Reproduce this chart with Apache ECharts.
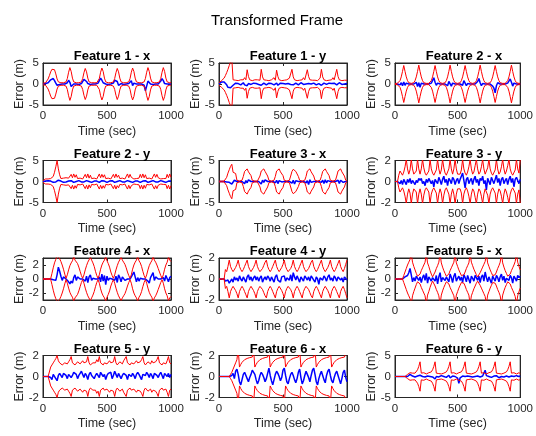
<!DOCTYPE html>
<html><head><meta charset="utf-8">
<script src="https://cdn.jsdelivr.net/npm/echarts@6/dist/echarts.min.js"></script>
<style>html,body{margin:0;padding:0;background:#fff}#chart{width:536px;height:436px}</style>
</head><body><div id="chart"></div>
<script>
// Sample times (sec)
const timeSec = [
  0,10,20,30,40,50,60,70,80,90,
  100,110,120,130,140,150,160,170,180,190,
  200,210,220,230,240,250,260,270,280,290,
  300,310,320,330,340,350,360,370,380,390,
  400,410,420,430,440,450,460,470,480,490,
  500,510,520,530,540,550,560,570,580,590,
  600,610,620,630,640,650,660,670,680,690,
  700,710,720,730,740,750,760,770,780,790,
  800,810,820,830,840,850,860,870,880,890,
  900,910,920,930,940,950,960,970,980,990,
  1000];

// Feature 1 - x : estimation error and 3-sigma bound (m)
const f1xErr = [
  0,0,0.1,0.1,0.3,0.6,1.0,1.4,1.3,0.8,
  0.2,-0.3,-0.2,-0.1,-0.1,0,-0.1,0,0,0.3,
  0.9,0.4,-0.6,-0.2,0,-0.1,0,0,-0.1,0,
  0.1,0.5,1.1,1.3,0.6,0.1,0,-0.1,0,0,
  -0.1,0,0,0.2,0.8,1.4,0.9,0.3,-0.1,0,
  0,-0.1,0,0,0,0.2,0.9,1.3,0.6,-0.3,
  0,0.1,0,-0.1,0,0,0,0.1,0.4,0.8,
  -0.4,0.2,0,0,-0.1,0,0,0,0,-0.3,
  -1.6,-0.5,0.7,0.3,0,0,-0.1,0,0,0,
  0,0.2,0.7,1.3,0.8,0.1,0,0,-0.1,0,
  0];
const f1xBound = [
  0.2,0.3,0.3,0.6,1.2,2.0,2.9,3.5,3.8,3.4,
  2.4,1.2,0.5,0.3,0.3,0.3,0.3,0.3,0.5,1.3,
  2.8,3.9,3.0,1.4,0.5,0.3,0.3,0.3,0.3,0.3,
  0.5,1.3,2.7,3.7,2.9,1.4,0.5,0.3,0.3,0.3,
  0.3,0.3,0.3,0.5,1.3,2.8,3.8,3.0,1.4,0.5,
  0.3,0.3,0.3,0.3,0.3,0.5,1.3,2.7,3.7,2.9,
  1.4,0.5,0.3,0.3,0.3,0.3,0.3,0.5,1.3,2.8,
  3.8,3.0,1.4,0.5,0.3,0.3,0.3,0.3,0.3,0.5,
  1.3,2.8,3.9,3.0,1.4,0.5,0.3,0.3,0.3,0.3,
  0.3,0.5,1.3,2.8,3.9,3.0,1.4,0.5,0.3,0.3,
  0.3];

// Feature 1 - y
const f1yErr = [
  0,0.2,0.5,0.6,0.5,0.3,-0.2,-0.8,-1.0,-0.9,
  -1.0,-0.3,0.1,0.2,-0.1,0.1,0.3,-0.2,0.1,0.3,
  -0.2,0.2,-0.4,0.1,0.2,-0.1,0,0.2,-0.2,0.1,
  0.3,-0.1,0.2,-0.3,0.1,0.2,0,-0.2,0.1,0.2,
  -0.1,0.1,0.3,-0.2,0,0.2,-0.3,0.1,0.2,-0.1,
  0.1,0.3,0,-0.2,0.1,0.2,-0.1,0.3,-0.2,0,
  0.2,0.1,-0.2,0,0.3,0.1,-0.1,0.2,0,-0.3,
  0.1,0.2,0,-0.1,0.2,0.3,-0.2,0,0.1,0.2,
  -0.3,0.1,0.2,0,-0.1,0.3,0.2,-0.2,0.1,0,
  0.2,0.4,-0.2,0.1,0.3,0.1,-0.1,0.2,0,-0.2,
  0.1];
const f1yBound = [
  0.3,0.6,0.8,1.0,1.4,2.0,2.7,3.5,4.4,5.2,
  6.0,1.0,0.8,0.9,1.0,0.8,0.9,1.0,0.9,1.0,
  1.5,1.0,3.4,1.8,1.0,0.9,0.8,0.9,1.0,0.9,
  1.0,1.4,0.9,3.5,1.7,1.0,0.8,0.9,1.0,0.8,
  0.9,1.0,1.0,1.5,0.9,3.3,1.8,1.0,0.9,0.8,
  1.0,0.9,0.8,1.0,1.0,1.4,1.0,3.5,1.7,1.0,
  0.9,0.8,1.0,0.9,0.9,1.0,1.5,1.0,1.1,3.4,
  1.8,1.0,0.8,0.9,1.0,0.9,1.0,0.8,1.0,1.4,
  3.5,1.7,1.0,0.9,0.8,1.0,0.9,1.0,1.0,1.5,
  1.0,1.0,3.5,1.8,1.0,0.9,0.8,1.0,0.9,1.0,
  0.9];

// Feature 2 - x
const f2xErr = [
  0,0,0,0,-0.2,0.3,-0.4,0.5,-0.3,0.2,
  -0.1,0,0,0,0,0,-0.3,0.4,-0.6,0.3,
  -0.8,0.2,-0.1,0,0,0,0,0,0,0.2,
  0.6,1.5,0.4,-0.3,0.2,0,0,0,0,0,
  0,0.2,-0.4,0.6,0.9,-0.5,0.2,0,0,0,
  0,0,0,0.3,-0.3,0.8,0.4,-0.4,0.1,0,
  0,0,0,0,0,0.2,0.6,1.3,0.3,-0.4,
  0.1,0,0,0,0,0,0,0.2,-0.5,-1.0,
  -2.1,-0.4,0.3,0,0,0,0,0,0,0,
  0.2,0.5,1.2,0.4,-0.5,0.2,0,0,0,0,
  0];
const f2xBound = [
  0.1,0.15,0.2,0.3,0.8,1.7,3.0,4.4,3.0,1.7,
  0.8,0.3,0.15,0.15,0.15,0.3,0.8,1.7,3.0,4.5,
  3.0,1.7,0.8,0.3,0.15,0.15,0.15,0.15,0.3,0.8,
  1.7,3.0,4.4,3.0,1.7,0.8,0.3,0.15,0.15,0.15,
  0.3,0.8,1.7,3.0,4.5,3.0,1.7,0.8,0.3,0.15,
  0.15,0.15,0.3,0.8,1.7,3.0,4.4,3.0,1.7,0.8,
  0.3,0.15,0.15,0.15,0.3,0.8,1.7,3.0,4.5,3.0,
  1.7,0.8,0.3,0.15,0.15,0.15,0.3,0.8,1.7,3.0,
  4.4,3.0,1.7,0.8,0.3,0.15,0.15,0.15,0.15,0.3,
  0.8,1.7,3.0,4.5,3.0,1.7,0.8,0.3,0.15,0.15,
  0.15];

// Feature 2 - y
const f2yErr = [
  0,0,0.1,0.1,0.2,0.2,0.1,-0.1,-0.2,-0.2,
  -0.1,0.2,0.3,0.3,0.1,-0.1,-0.2,-0.2,-0.1,0,
  0.1,0.2,0.2,-0.1,-0.2,-0.2,0,0.1,0.2,0.1,
  -0.1,-0.2,-0.1,0.1,0.2,0.2,0,-0.2,-0.2,0,
  0.1,0.2,0.1,-0.1,-0.2,0,0.2,0.2,0.1,-0.1,
  -0.2,-0.1,0.1,0.2,0.2,0,-0.2,-0.2,0,0.1,
  0.2,0.1,-0.1,-0.2,-0.1,0.1,0.2,0.2,0,-0.2,
  -0.2,0,0.1,0.2,0.1,-0.1,-0.2,-0.1,0.1,0.2,
  0.2,0,-0.2,-0.2,0,0.1,0.2,0.1,-0.1,-0.2,
  -0.1,0.1,0.2,0.2,0,-0.2,-0.2,0,0.1,0.2,
  0.1];
const f2yBound = [
  0.2,0.5,0.6,0.7,0.6,0.8,0.7,0.9,1.2,2.2,
  3.5,5.0,3.0,1.6,0.7,0.6,0.8,0.7,0.9,0.6,
  0.8,0.7,1.7,0.9,1.8,1.0,1.6,0.7,0.6,0.8,
  0.7,0.6,0.8,1.7,0.9,1.8,0.8,1.5,0.7,0.6,
  0.8,0.7,0.6,0.8,1.8,0.9,1.7,1.0,1.6,0.7,
  0.6,0.8,0.7,0.6,0.8,1.7,0.9,1.8,1.0,1.5,
  0.7,0.6,0.8,0.7,0.6,0.9,1.8,0.9,1.7,1.0,
  0.7,0.6,0.8,0.7,0.6,0.8,1.7,0.9,1.8,0.9,
  1.6,0.7,0.6,0.8,0.7,0.6,0.9,1.8,1.0,1.7,
  0.9,0.7,0.6,0.8,0.7,0.6,0.7,1.7,0.9,1.8,
  1.0];

// Feature 3 - x
const f3xErr = [
  0,0,0,0,0,0,-0.1,0.2,-0.2,-0.4,
  -0.6,-0.2,0.3,0.1,0,0,0,0,0,-0.2,
  -0.5,0.2,-0.3,0.4,0.1,0,0,0,0,0,
  0,0,-0.2,-0.6,0.3,-0.2,0.4,0.1,0,0,
  0,0,0,0,-0.3,0.3,-0.5,0.2,0.4,-0.1,
  0,0,0,0,0,0,0.2,-0.4,0.3,-0.6,
  0.2,0.1,0,0,0,0,0,0,-0.3,0.2,
  -0.7,0.4,-0.2,0.1,0,0,0,0,0,0,
  -0.2,0.3,-0.5,0.4,-0.3,0.2,0,0,0,0,
  0,0,-0.3,0.3,-0.5,0.3,0.1,-0.2,0,0,
  0];
const f3xBound = [
  0.1,0.1,0.1,0.1,0.1,0.3,1.0,2.0,2.8,3.6,
  4.1,2.2,2.4,1.9,0.3,0.1,0.1,0.1,0.3,1.2,
  2.4,2.8,3.0,2.3,2.7,1.4,0.3,0.1,0.1,0.1,
  0.1,0.3,1.3,2.5,2.8,3.0,2.4,2.6,1.3,0.3,
  0.1,0.1,0.1,0.3,1.2,2.5,2.8,3.0,2.3,2.7,
  1.4,0.3,0.1,0.1,0.1,0.3,1.3,2.4,2.9,3.0,
  2.4,2.6,1.2,0.3,0.1,0.1,0.1,0.3,1.2,2.5,
  2.8,3.0,2.3,2.7,1.3,0.3,0.1,0.1,0.1,0.3,
  1.2,2.4,2.8,3.0,2.4,2.6,1.4,0.3,0.1,0.1,
  0.1,0.3,1.3,2.5,2.9,3.0,2.3,2.7,1.3,0.3,
  0.1];

// Feature 3 - y
const f3yErr = [
  0,0,0,0.1,-0.2,0.1,-0.3,0.2,0.1,-0.3,
  0.2,-0.1,0.3,-0.2,0.1,0.2,-0.3,0.1,-0.1,0.3,
  0.1,0.3,-0.2,0,-0.4,0.2,-0.1,0.3,0.4,-0.2,
  0.1,-0.5,0.2,0.3,-0.2,0.4,0.1,-0.3,0.2,0.5,
  -0.1,0.2,-0.4,0.3,0.1,-0.2,0.4,0.2,-0.3,0.1,
  0.3,-0.2,0.2,0.5,0.8,0.1,-0.6,0.2,0.4,-0.2,
  0.1,0.3,-0.3,0.2,0.5,-0.1,0.2,-0.4,0.3,0.1,
  0.5,-0.2,0.1,-0.8,0.3,0.2,-0.3,0.4,0.1,-0.2,
  0.2,0.6,-0.1,0.3,-0.4,0.2,0.4,-0.2,0.1,0.3,
  -0.3,0.2,0.5,-0.1,0.3,-0.5,0.2,0.4,0.1,-0.2,
  0.2];
const f3yBound = [
  0,0,0,0.6,1.0,0.8,0.6,0.9,1.4,2.1,
  1.2,0.7,1.1,2.1,1.2,0.7,0.6,1.0,2.1,1.2,
  0.7,1.2,2.1,1.3,0.8,0.6,0.6,1.0,2.1,1.2,
  0.8,0.6,0.7,1.1,2.1,1.2,0.7,1.1,2.1,1.3,
  0.8,0.6,0.7,1.2,2.1,1.2,0.7,1.2,2.1,1.2,
  0.7,0.6,0.7,1.1,2.1,1.2,0.8,0.6,0.9,1.4,
  2.1,1.2,0.7,0.9,1.5,2.1,1.2,0.7,0.9,1.4,
  2.1,1.2,0.7,0.8,1.3,2.1,1.2,0.8,0.6,0.7,
  1.1,2.1,1.2,0.7,0.9,1.4,2.1,1.2,0.7,1.0,
  1.5,2.1,1.2,0.8,0.6,0.7,1.1,2.1,1.2,0.8,
  2.1];

// Feature 4 - x
const f4xErr = [
  0,0,0,0,0,0,0,0,-0.1,-0.3,
  -0.2,0.6,1.7,1.1,0.4,-0.2,0.3,0.1,0,-0.1,
  -0.4,-0.7,-0.3,-0.6,0.2,0.6,-0.2,0.3,0.1,0,
  0,0,0.2,-0.3,0.4,-0.5,0.3,0.6,-0.2,0.1,
  0.2,0,0,0,0.3,-0.4,0.7,-0.3,0.5,-0.8,
  0.4,-0.2,0.1,0,0,0,-0.2,0.4,-0.5,0.6,
  0.2,-0.4,0.3,0.1,-0.2,0,0,0,0,0.3,
  0.5,1.0,0.3,-0.4,0.2,-0.3,0.1,0,0,0,
  0,0,-0.3,-0.6,0.2,0.4,0.9,-0.2,0.3,0.1,
  0,0,0,0,0.2,-0.3,0.5,0.3,-0.4,0.2,
  0.4];
const f4xBound = [
  0.05,0.05,0.05,0.05,0.05,0.05,0.05,0.8,1.6,2.3,
  2.8,3.3,3.4,2.9,2.5,2.0,1.4,0.7,0.1,0.6,
  1.3,1.9,2.3,2.6,3.2,2.7,2.5,2.2,1.7,1.1,
  0.5,0.1,0.6,1.3,1.9,2.4,2.6,3.1,2.7,2.3,
  1.8,1.1,0.5,0.1,0.6,1.4,2.0,2.4,2.7,3.2,
  2.6,2.2,1.7,1.0,0.5,0.1,0.6,1.3,1.9,2.4,
  2.6,3.1,2.7,2.4,2.1,1.6,1.0,0.5,0.1,0.6,
  1.4,2.0,2.4,2.7,3.2,2.6,2.3,1.8,1.1,0.5,
  0.1,0.6,1.3,1.9,2.3,2.6,3.2,2.7,2.4,2.0,
  1.5,1.0,0.5,0.1,0.6,1.4,2.0,2.4,3.1,2.7,
  2.5];

// Feature 4 - y
const f4yErr = [
  0,0,0,0,0,-0.2,-0.3,-0.1,-0.4,-0.2,
  0,-0.3,0.2,-0.1,0.1,-0.2,0.3,0,-0.2,0.2,
  0.1,-0.3,0.2,0.4,-0.1,0.2,-0.2,0.1,0.3,-0.1,
  0.2,-0.2,0.1,0.3,-0.3,0,0.2,-0.1,0.3,0.1,
  -0.2,0.2,0.1,-0.3,0.2,0.4,-0.1,0,-0.3,0.2,
  0.1,0.3,-0.2,0.1,0.2,-0.1,0.4,-0.2,0.6,0.2,
  -0.1,0.3,0,-0.3,0.2,0.1,-0.2,0.3,0.1,-0.1,
  0.2,-0.2,0.3,0.1,-0.1,-0.3,0.2,0,-0.5,0.1,
  0.2,-0.1,0.3,0.1,-0.2,0.2,0.4,-0.1,0.1,-0.2,
  0.3,0.1,-0.2,0.2,0.3,-0.1,0.1,-0.3,0.2,0.1,
  -0.1];
const f4yBound = [
  0,0,0,0,0,0.9,0.7,1.2,1.8,1.2,
  0.9,0.7,0.8,1.1,1.4,1.8,1.2,0.9,0.7,0.9,
  1.2,1.5,1.8,1.2,0.9,0.7,0.8,1.1,1.4,1.8,
  1.2,0.9,0.7,0.8,1.0,1.3,1.6,1.8,1.2,0.9,
  0.7,0.9,1.2,1.5,1.8,1.2,0.9,0.7,0.8,1.1,
  1.4,1.8,1.2,0.9,0.7,0.8,1.0,1.3,1.8,1.2,
  0.9,0.7,0.9,1.2,1.5,1.8,1.2,0.9,0.7,0.8,
  1.0,1.3,1.6,1.8,1.2,0.9,0.7,0.9,1.2,1.5,
  1.8,1.2,0.9,0.7,0.8,1.1,1.4,1.8,1.2,0.9,
  0.7,0.9,1.2,1.5,1.8,1.2,0.9,0.7,1.0,1.4,
  1.8];

// Feature 5 - x
const f5xErr = [
  0,0,0,0,0,0,0,0.1,0.3,0.2,
  0.5,0.9,1.5,0.6,-0.4,0.2,-0.3,0.4,0.1,-0.2,
  0.3,-0.5,0.2,0.6,-0.2,0.8,-0.6,0.3,0.1,-0.3,
  0.2,0.4,-0.3,0.5,-0.7,0.3,0.9,-0.4,0.2,0.1,
  -0.2,0.3,0.5,-0.4,0.7,0.2,-0.5,0.4,0.8,-0.3,
  0.1,0.4,-0.2,0.3,-0.5,0.6,0.2,-0.4,0.5,0.3,
  -0.6,0.4,0.1,-0.3,0.5,0.2,-0.2,0.4,-0.5,0.3,
  0.6,-0.3,1.0,0.2,-0.4,0.3,0.1,-0.6,0.4,0.2,
  -0.3,0.5,0.2,-0.4,0.3,0.7,-0.2,0.4,-0.5,0.1,
  0.3,-0.2,0.5,0.2,-0.6,0.4,0.1,-0.3,0.5,0.2,
  0.4];
const f5xBound = [
  0,0,0,0,0,0,0,0.5,1.0,1.5,
  2.0,2.4,2.8,3.6,2.4,1.8,1.3,0.8,0.4,0.3,
  0.7,1.2,1.6,2.0,2.4,3.6,2.3,1.8,1.2,0.7,
  0.3,0.5,1.0,1.5,1.9,2.4,3.6,2.3,1.7,1.2,
  0.8,0.4,0.3,0.7,1.2,1.6,2.0,2.4,3.6,2.3,
  1.8,1.3,0.9,0.5,0.3,0.6,1.0,1.5,1.9,2.3,
  3.6,2.4,1.9,1.4,1.0,0.6,0.3,0.5,0.9,1.3,
  1.7,2.1,2.5,3.6,2.3,1.8,1.3,0.9,0.5,0.3,
  0.6,1.0,1.5,1.9,2.4,3.6,2.3,1.7,1.2,0.8,
  0.4,0.3,0.7,1.2,1.6,2.0,2.5,3.6,2.4,1.8,
  1.3];

// Feature 5 - y
const f5yErr = [
  0,0,0,0,0,0,-0.1,-0.3,0.2,0.1,
  -0.2,-0.4,0.1,0.3,0.2,-0.1,0.3,0.4,0.1,-0.2,
  0.2,0.3,-0.1,0.1,0.4,0.5,0.2,-0.2,0.1,0.3,
  0.5,0.2,-0.1,0.3,0.1,-0.3,0.2,0.4,0.1,0.2,
  -0.2,0.1,0.3,0.2,-0.1,0.4,0.3,0,0.2,-0.3,
  0.1,0.3,0.2,0.4,-0.2,0.1,0.5,0.2,-0.1,0.3,
  0.2,-0.2,0.1,0.3,0.4,0.1,-0.3,0.2,0.3,0,
  0.3,0.1,-0.2,0.2,0.4,0.2,0.1,-0.3,0.2,0.3,
  0.1,0.4,0.2,-0.1,0.3,0.1,-0.2,0.3,0.2,0.1,
  -0.1,0.2,0.4,0.1,-0.2,0.3,0.2,0,0.3,-0.1,
  0.2];
const f5yBound = [
  0,0,0,0,0,0,0.9,1.1,1.3,1.5,
  1.7,2.0,1.5,1.3,1.2,1.1,1.2,1.3,1.4,1.2,
  1.4,1.6,1.9,1.3,1.2,1.1,1.2,1.4,1.3,1.2,
  1.3,1.5,1.3,1.2,1.4,1.9,1.3,1.1,1.2,1.3,
  1.4,1.3,1.6,1.4,1.9,1.3,1.2,1.1,1.3,1.4,
  1.2,1.3,1.5,1.3,1.2,1.4,1.9,1.3,1.1,1.2,
  1.4,1.3,1.2,1.5,1.4,1.9,1.3,1.2,1.1,1.3,
  1.4,1.2,1.3,1.5,1.3,1.2,1.4,1.6,1.9,1.3,
  1.1,1.2,1.4,1.3,1.2,1.5,1.3,1.2,1.4,1.6,
  1.9,1.3,1.2,1.1,1.3,1.4,1.2,1.5,1.9,1.3,
  1.2];

// Feature 6 - x
const f6xErr = [
  0,0,0,0,0,0,0,0,0,0,
  0.1,0.3,-0.2,0.5,0.7,0.2,-0.5,-0.8,-0.3,0.2,
  0.4,0.3,-0.2,-0.5,-0.1,0.2,0.6,0.7,0.2,-0.3,
  -0.7,-0.4,0.1,0.4,0.2,-0.1,-0.5,-0.2,0.3,0.8,
  0.1,-0.4,-0.8,-0.3,0.2,0.5,0.3,0,-0.4,-0.1,
  0.6,0.8,0.1,-0.5,-0.7,-0.2,0.2,0.4,0.1,-0.3,
  -0.6,-0.2,0.4,0.7,-0.1,-0.7,-0.4,0.1,0.5,0.2,
  -0.1,-0.5,0.1,0.6,0.8,0.2,-0.5,-0.8,-0.2,0.2,
  0.5,0.1,-0.3,-0.6,0.1,0.5,0.7,0.1,-0.4,-0.6,
  -0.1,0.3,0.5,0.1,-0.3,-0.7,-0.2,0.4,0.6,-0.1,
  -0.5];
const f6xBound = [
  0,0,0,0,0,0,0,0,0,0.2,
  0.4,0.7,1.0,1.3,1.6,2.6,0.9,1.15,1.35,1.5,
  1.6,1.67,1.72,1.76,1.8,1.82,1.85,2.6,0.9,1.15,
  1.35,1.5,1.6,1.67,1.72,1.76,1.8,1.82,1.85,2.6,
  0.9,1.15,1.35,1.5,1.6,1.67,1.72,1.76,1.8,1.82,
  1.85,2.6,0.9,1.15,1.35,1.5,1.6,1.67,1.72,1.76,
  1.8,1.82,1.85,2.6,0.9,1.15,1.35,1.5,1.6,1.67,
  1.72,1.76,1.8,1.82,1.85,2.6,0.9,1.15,1.35,1.5,
  1.6,1.67,1.72,1.76,1.8,1.82,1.85,2.6,0.9,1.15,
  1.35,1.5,1.6,1.67,1.72,1.76,1.8,1.82,1.85,1.87,
  2.6];

// Feature 6 - y
const f6yErr = [
  0,0,0,0,0,0,0,0,0,0,
  0,0.2,0.5,0.3,0.1,-0.2,-0.1,0,0.1,-0.2,
  0.3,-0.1,0,0.2,-0.1,0,0.1,-0.2,0,0.1,
  -0.1,0.2,-0.6,0,0.1,-0.1,0,0.2,-0.1,0,
  0.1,-0.2,0,0.3,-0.3,0,0.1,-0.1,0,0.2,
  -0.4,-1.6,-0.3,0,0.1,-0.1,0,0.2,0.1,-0.2,
  0,0.1,-0.1,0.2,0,-0.2,0.1,0,-0.1,0.2,
  0.1,0.4,1.5,0.2,-0.1,0,0.1,-0.2,0,0.1,
  -0.1,0.2,0,-0.3,0.1,0,0.2,-0.1,0,0.1,
  0.2,-0.1,0,0.1,-0.2,0,0.1,0.2,-0.1,0,
  0.1];
const f6yBound = [
  0,0,0,0,0,0,0,0,0,0,
  0.5,0.8,0.9,0.7,0.8,0.6,0.8,1.1,1.6,2.4,
  3.5,0.8,0.7,0.9,0.8,0.6,0.8,0.9,0.7,1.1,
  1.6,2.4,3.5,0.8,0.9,0.7,0.8,0.6,0.9,0.8,
  0.7,1.1,1.6,2.4,3.5,0.8,0.7,0.9,0.8,0.6,
  0.8,0.9,0.7,1.1,1.6,2.4,3.5,0.8,0.9,0.7,
  0.8,0.6,0.9,0.8,0.7,1.1,1.6,2.4,3.5,0.8,
  0.7,0.9,0.8,0.6,0.8,0.9,0.7,1.1,1.6,2.4,
  3.5,0.8,0.9,0.7,0.8,0.6,0.9,0.8,0.7,1.1,
  1.6,2.4,3.5,0.8,0.7,0.9,0.8,0.6,0.8,0.9,
  0.7];

// Subplot titles and tick positions
const titles = ['Feature 1 - x','Feature 1 - y','Feature 2 - x',
                'Feature 2 - y','Feature 3 - x','Feature 3 - y',
                'Feature 4 - x','Feature 4 - y','Feature 5 - x',
                'Feature 5 - y','Feature 6 - x','Feature 6 - y'];
const yTicks5 = [-5, 0, 5];
const yTicks2 = [-2, 0, 2];
const xTicks = [0, 500, 1000];

const panels = [
  {err: f1xErr, bound: f1xBound, lim: 5, ticks: yTicks5},
  {err: f1yErr, bound: f1yBound, lim: 5, ticks: yTicks5},
  {err: f2xErr, bound: f2xBound, lim: 5, ticks: yTicks5},
  {err: f2yErr, bound: f2yBound, lim: 5, ticks: yTicks5},
  {err: f3xErr, bound: f3xBound, lim: 5, ticks: yTicks5},
  {err: f3yErr, bound: f3yBound, lim: 2, ticks: yTicks2},
  {err: f4xErr, bound: f4xBound, lim: 3, ticks: yTicks2},
  {err: f4yErr, bound: f4yBound, lim: 2, ticks: yTicks2},
  {err: f5xErr, bound: f5xBound, lim: 3, ticks: yTicks2},
  {err: f5yErr, bound: f5yBound, lim: 2, ticks: yTicks2},
  {err: f6xErr, bound: f6xBound, lim: 2, ticks: yTicks2},
  {err: f6yErr, bound: f6yBound, lim: 5, ticks: yTicks5}
];

const FONT = '"Liberation Sans", Arial, Helvetica, sans-serif';
const INK = '#262626';
const colLeft = [43, 219, 395];
const rowTop = [63, 160.5, 258, 355.5];
const W = 128, H = 42;

const grids = [], xAxes = [], yAxes = [], series = [];
const titleList = [{
  text: 'Transformed Frame', left: 272, top: 8, textAlign: 'center',
  textStyle: {fontFamily: FONT, fontSize: 15, fontWeight: 'normal', color: '#000'}
}];

const plainNum = v => String(v);

panels.forEach((p, i) => {
  const r = Math.floor(i / 3), c = i % 3;
  grids.push({left: colLeft[c], top: rowTop[r], width: W, height: H,
    show: true, borderColor: INK, borderWidth: 1, backgroundColor: 'transparent'});
  titleList.push({
    text: titles[i], left: colLeft[c] + W / 2, top: rowTop[r] - 18, textAlign: 'center',
    textStyle: {fontFamily: FONT, fontSize: 13, fontWeight: 'bold', color: '#000'}
  });
  const xBase = {
    gridIndex: i, type: 'value', min: 0, max: 1000,
    axisLine: {show: true, onZero: false, lineStyle: {color: INK, width: 1}},
    axisTick: {show: true, inside: true, length: 3, customValues: xTicks, lineStyle: {color: INK}},
    splitLine: {show: false}
  };
  const yBase = {
    gridIndex: i, type: 'value', min: -p.lim, max: p.lim,
    axisLine: {show: true, onZero: false, lineStyle: {color: INK, width: 1}},
    axisTick: {show: true, inside: true, length: 3, customValues: p.ticks, lineStyle: {color: INK}},
    splitLine: {show: false}
  };
  // bottom / left axes with labels
  xAxes.push(Object.assign({}, xBase, {
    position: 'bottom',
    axisLabel: {customValues: xTicks, formatter: plainNum, color: INK, fontFamily: FONT, fontSize: 11.5, margin: 5},
    name: 'Time (sec)', nameLocation: 'middle', nameGap: 20, nameMoveOverlap: false,
    nameTextStyle: {fontFamily: FONT, fontSize: 12.5, color: INK}
  }));
  yAxes.push(Object.assign({}, yBase, {
    position: 'left',
    axisLabel: {customValues: p.ticks, formatter: plainNum, color: INK, fontFamily: FONT, fontSize: 11.5, margin: 4},
    name: 'Error (m)', nameLocation: 'middle', nameGap: 17, nameRotate: 90, nameMoveOverlap: false,
    nameTextStyle: {fontFamily: FONT, fontSize: 12.5, color: INK}
  }));
  // mirrored top / right ticks of the box
  xAxes.push(Object.assign({}, xBase, {position: 'top', axisLabel: {show: false}}));
  yAxes.push(Object.assign({}, yBase, {position: 'right', axisLabel: {show: false}}));

  const xi = 2 * i, yi = 2 * i;
  const errPts = timeSec.map((t, k) => [t, p.err[k]]);
  const upPts = timeSec.map((t, k) => [t, p.bound[k]]);
  const loPts = timeSec.map((t, k) => [t, -p.bound[k]]);
  series.push({type: 'line', xAxisIndex: xi, yAxisIndex: yi, data: errPts, symbol: 'none',
    lineStyle: {color: '#0000ff', width: 1.5}, z: 2, clip: true});
  series.push({type: 'line', xAxisIndex: xi, yAxisIndex: yi, data: upPts, symbol: 'none',
    lineStyle: {color: '#ff0000', width: 1}, z: 3, clip: true});
  series.push({type: 'line', xAxisIndex: xi, yAxisIndex: yi, data: loPts, symbol: 'none',
    lineStyle: {color: '#ff0000', width: 1}, z: 3, clip: true});
});

const chart = echarts.init(document.getElementById('chart'), null, {renderer: 'canvas'});
chart.setOption({
  animation: false,
  backgroundColor: '#fff',
  title: titleList,
  grid: grids,
  xAxis: xAxes,
  yAxis: yAxes,
  series: series
});
</script>
</body></html>
